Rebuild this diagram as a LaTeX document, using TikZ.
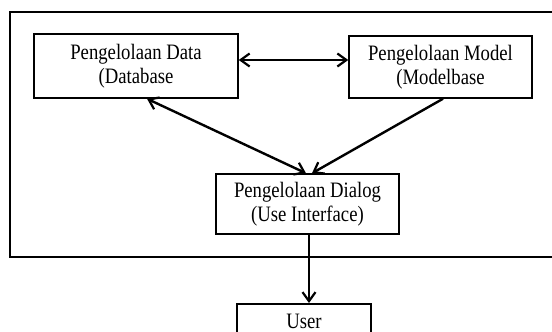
\documentclass[tikz,border=0pt]{standalone}
\usepackage{fontspec}
\setmainfont{Liberation Serif}[FakeStretch=0.85]
\usetikzlibrary{arrows.meta}
\tikzset{
  labelfont/.style={font=\fontsize{22}{24}\selectfont},
  box/.style={draw=black, line width=1.5pt, rectangle, inner sep=0pt, align=center, labelfont},
  barb/.tip={Straight Barb[length=9pt,width=13pt,line width=2.2pt]},
  link/.style={line width=2.4pt, barb-barb},
  onearrow/.style={line width=2.4pt, -barb}
}
\begin{document}
\begin{tikzpicture}[x=1pt,y=-1pt]
  \useasboundingbox (0,0) rectangle (552,332);
  \begin{scope}
    \clip (0,0) rectangle (552,332);
    % system frame, its right side runs past the edge
    \draw[line width=1.5pt] (570,12) -- (10,12) -- (10,257) -- (570,257);
    % components
    \node[box, minimum width=204pt, minimum height=64pt] (data) at (136,66)
      {Pengelolaan Data\\(Database};
    \node[box, minimum width=183pt, minimum height=62pt] (model) at (440.5,67)
      {Pengelolaan Model\\(Modelbase};
    \node[box, minimum width=183pt, minimum height=60pt] (dialog) at (307.5,204)
      {Pengelolaan Dialog\\(Use Interface)};
    \node[box, minimum width=134pt, minimum height=50pt, anchor=north] (user) at (304,303) {};
    \node[labelfont, anchor=base] (usertext) at (304,328) {User};
    % connectors
    \draw[link] (data.east |- 0,60) -- (model.west |- 0,60);
    \draw[link] ([xshift=11pt]data.south) -- ([xshift=-1.5pt]dialog.north);
    \draw[onearrow] ([xshift=2.5pt]model.south) -- ([xshift=4.5pt]dialog.north);
    \draw[onearrow] ([xshift=1.5pt]dialog.south) -- ([xshift=5pt]user.north);
  \end{scope}
\end{tikzpicture}
\end{document}
